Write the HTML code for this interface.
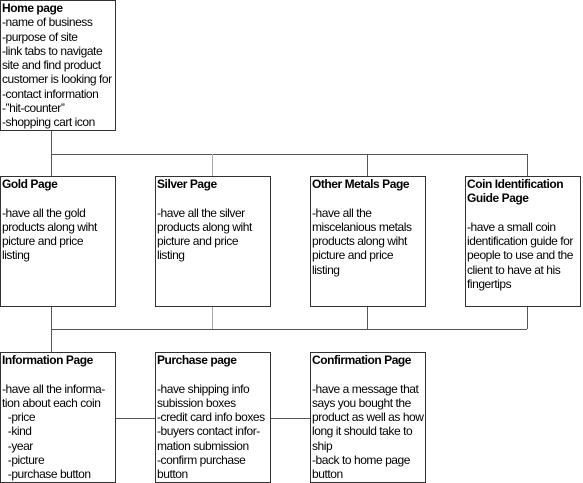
<!DOCTYPE html>
<html><head><style>
body{margin:0;width:583px;height:482px;background:#fff;position:relative;overflow:hidden;font-family:"Liberation Sans",sans-serif;font-size:12px;line-height:14.3px;color:#000}
.b{position:absolute;border:1px solid #333;box-sizing:border-box;width:116px;padding:0 0 0 1px;white-space:nowrap;letter-spacing:-0.45px;overflow:hidden}
b{font-weight:bold}
.l{position:absolute;background:#555}
</style></head><body>
<div class="l" style="left:51px;top:130px;width:1px;height:47px"></div>
<div class="l" style="left:51px;top:154px;width:477px;height:1px"></div>
<div class="l" style="left:212px;top:154px;width:1px;height:23px;background:#aaa"></div>
<div class="l" style="left:367px;top:154px;width:1px;height:23px"></div>
<div class="l" style="left:527px;top:154px;width:1px;height:23px"></div>
<div class="l" style="left:51px;top:306px;width:1px;height:47px"></div>
<div class="l" style="left:51px;top:329px;width:476px;height:1px"></div>
<div class="l" style="left:212px;top:306px;width:1px;height:23px;background:#aaa"></div>
<div class="l" style="left:367px;top:306px;width:1px;height:23px"></div>
<div class="l" style="left:527px;top:306px;width:1px;height:23px"></div>
<div class="l" style="left:115px;top:418px;width:40px;height:1px"></div>
<div class="l" style="left:270px;top:418px;width:40px;height:1px"></div>

<div class="b" style="left:0;top:0;height:131px"><b>Home page</b><br>-name of business<br>-purpose of site<br>-link tabs to navigate<br>site and find product<br>customer is looking for<br>-contact information<br>-”hit-counter”<br>-shopping cart icon</div>

<div class="b" style="left:0;top:176px;height:131px"><b>Gold Page</b><br><br>-have all the gold<br>products along wiht<br>picture and price<br>listing</div>
<div class="b" style="left:155px;top:176px;height:131px"><b>Silver Page</b><br><br>-have all the silver<br>products along wiht<br>picture and price<br>listing</div>
<div class="b" style="left:310px;top:176px;height:131px"><b>Other Metals Page</b><br><br>-have all the<br>miscelanious metals<br>products along wiht<br>picture and price<br>listing</div>
<div class="b" style="left:465px;top:176px;height:131px"><b>Coin Identification<br>Guide Page</b><br><br>-have a small coin<br>identification guide for<br>people to use and the<br>client to have at his<br>fingertips</div>

<div class="b" style="left:0;top:352px;height:131px"><b>Information Page</b><br><br>-have all the informa-<br>tion about each coin<br>&nbsp;&nbsp;-price<br>&nbsp;&nbsp;-kind<br>&nbsp;&nbsp;-year<br>&nbsp;&nbsp;-picture<br>&nbsp;&nbsp;-purchase button</div>
<div class="b" style="left:155px;top:352px;height:131px"><b>Purchase page</b><br><br>-have shipping info<br>subission boxes<br>-credit card info boxes<br>-buyers contact infor-<br>mation submission<br>-confirm purchase<br>button</div>
<div class="b" style="left:310px;top:352px;height:131px"><b>Confirmation Page</b><br><br>-have a message that<br>says you bought the<br>product as well as how<br>long it should take to<br>ship<br>-back to home page<br>button</div>
</body></html>
